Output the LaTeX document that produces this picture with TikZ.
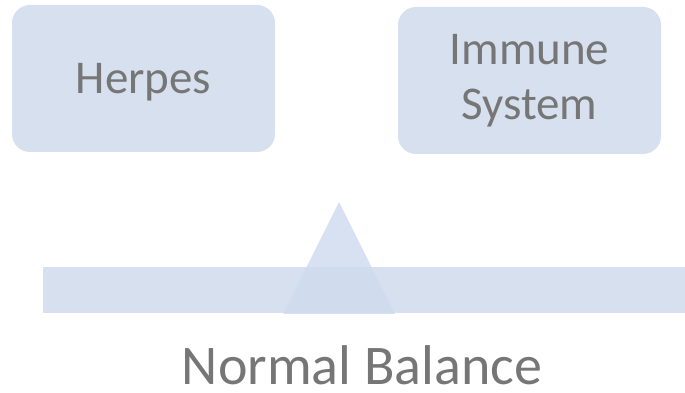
\documentclass[tikz,border=0pt]{standalone}
\usepackage{fontspec}
\setmainfont{Carlito}
\usetikzlibrary{positioning}
\definecolor{paleblue}{RGB}{214,224,238}
\definecolor{pivotblue}{RGB}{208,220,238}
\definecolor{labelgray}{RGB}{118,118,118}
\tikzset{
  factorbox/.style={fill=paleblue, rounded corners=18pt, minimum width=263pt,
    minimum height=147pt, inner sep=0pt, text=labelgray, align=center,
    font=\fontsize{47}{55}\selectfont},
  caption/.style={text=labelgray, inner sep=0pt, font=\fontsize{56}{60}\selectfont}
}

\begin{document}
\begin{tikzpicture}[x=1pt,y=1pt]
		%%%%% START %%%%%
		\useasboundingbox (0,0) rectangle (685,393);
		
		% the two sides being weighed
		\node[factorbox, text depth=0pt] (herpes) at (143.5,314.5) {Herpes};
		\node[factorbox] (immune) at (529.5,312.5) {Immune\\System};
		
		% beam and pivot
		\draw[fill=paleblue, draw=none] (43,126) rectangle (685,80);
		\draw[fill=pivotblue, draw=none, fill opacity=0.85] (283,79) -- (339,191) -- (395,79) -- cycle;
		
		\node[caption, anchor=base] (balance) at (362,8) {Normal Balance};
		
		%%%%% END %%%%%
\end{tikzpicture}
\end{document}
